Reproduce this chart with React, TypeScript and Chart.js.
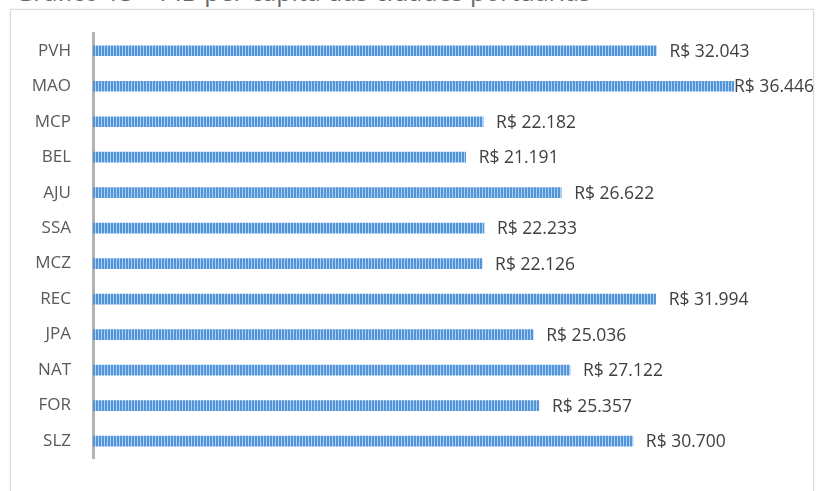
import React, { useEffect, useRef } from "react";
import { Chart, registerables } from "chart.js";

Chart.register(...registerables);

const categories = ["PVH", "MAO", "MCP", "BEL", "AJU", "SSA", "MCZ", "REC", "JPA", "NAT", "FOR", "SLZ"];
const pibPerCapita = [32043, 36446, 22182, 21191, 26622, 22233, 22126, 31994, 25036, 27122, 25357, 30700];
const title = "Gráfico 13 – PIB per capita das cidades portuárias";

function formatBRL(v: number): string {
  return "R$ " + v.toLocaleString("pt-BR");
}

function makePattern(): CanvasPattern | string {
  const c = document.createElement("canvas");
  c.width = 3;
  c.height = 1;
  const g = c.getContext("2d");
  if (!g) return "#5b9bd5";
  g.fillStyle = "#5294da";
  g.fillRect(0, 0, 2, 1);
  g.fillStyle = "#aed0f1";
  g.fillRect(2, 0, 1, 1);
  const ctx = document.createElement("canvas").getContext("2d");
  return (ctx && ctx.createPattern(c, "repeat")) || "#5b9bd5";
}

const labelPlugin = {
  id: "valueLabels",
  afterDatasetsDraw(chart: any) {
    const ctx = chart.ctx;
    const meta = chart.getDatasetMeta(0);
    const area = chart.chartArea;
    ctx.save();
    ctx.font = "17.5px 'Open Sans'";
    ctx.fillStyle = "#404040";
    ctx.textBaseline = "middle";
    ctx.textAlign = "left";
    meta.data.forEach((el: any, i: number) => {
      const text = formatBRL(pibPerCapita[i]);
      const w = ctx.measureText(text).width;
      let x = el.x + 13;
      if (x + w > area.right) x = area.right - w;
      ctx.fillText(text, x, el.y + 1);
    });
    ctx.restore();
  },
};

export default function App() {
  const ref = useRef<HTMLCanvasElement | null>(null);
  useEffect(() => {
    if (!ref.current) return;
    const chart = new Chart(ref.current, {
      type: "bar",
      data: {
        labels: categories,
        datasets: [
          {
            data: pibPerCapita,
            backgroundColor: makePattern() as any,
            barThickness: 10,
          },
        ],
      },
      options: {
        indexAxis: "y",
        animation: false,
        responsive: false,
        layout: { padding: { top: 33, bottom: 20, right: 2, left: 0 } },
        plugins: { legend: { display: false }, tooltip: { enabled: false } },
        scales: {
          x: { display: false, min: 0, max: 41000 },
          y: {
            grid: { display: false, drawTicks: false },
            border: { display: true, width: 3, color: "#b3b3b3" },
            ticks: { padding: 22, color: "#595959", font: { family: "'Open Sans'", size: 17 } },
            afterFit: (scale: any) => {
              scale.width = 93;
            },
          },
        },
      },
      plugins: [labelPlugin],
    });
    return () => chart.destroy();
  }, []);

  return (
    <div style={{ position: "fixed", left: 0, top: 0, width: 816, height: 491, overflow: "hidden", background: "#fff" }}>
      <div
        style={{
          position: "absolute",
          left: 15,
          top: -21,
          fontFamily: "'Open Sans'",
          fontSize: 25,
          lineHeight: "24px",
          color: "#666",
          whiteSpace: "nowrap",
        }}
      >
        {title}
      </div>
      <div
        style={{
          position: "absolute",
          left: 10,
          top: 9,
          width: 802,
          height: 600,
          border: "1px solid #dcdcdc",
          boxShadow: "0 0 2px rgba(0,0,0,0.10)",
        }}
      />
      <canvas ref={ref} width={816} height={491} style={{ position: "absolute", left: 0, top: 0 }} />
    </div>
  );
}
